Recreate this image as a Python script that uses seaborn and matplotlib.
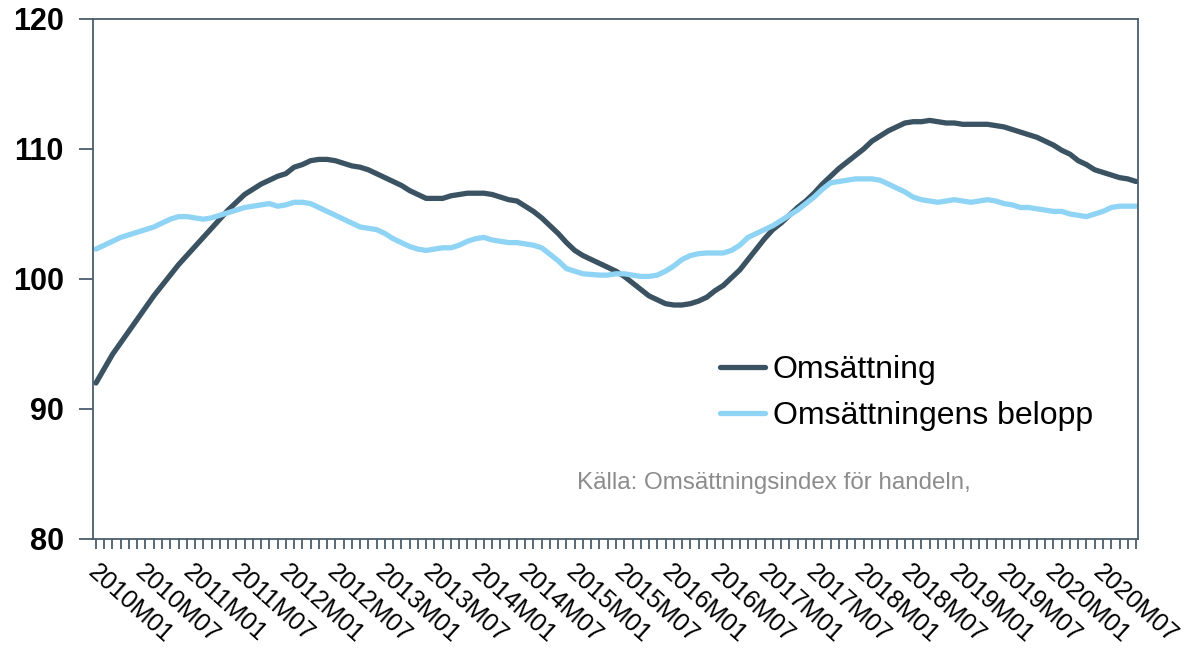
import matplotlib
matplotlib.use("Agg")
import matplotlib.pyplot as plt
import matplotlib.transforms as mtransforms
import seaborn as sns
import numpy as np
import pandas as pd

# --- DATA ---
months = [f"{y}M{m:02d}" for y in range(2010, 2021) for m in range(1, 13)][:127]

omsattning = [
    92.0, 93.1, 94.2, 95.1, 96.0, 96.9, 97.8, 98.7, 99.5, 100.3,
    101.1, 101.8, 102.5, 103.2, 103.9, 104.6, 105.3, 105.9, 106.5, 106.9,
    107.3, 107.6, 107.9, 108.1, 108.6, 108.8, 109.1, 109.2, 109.2, 109.1,
    108.9, 108.7, 108.6, 108.4, 108.1, 107.8, 107.5, 107.2, 106.8, 106.5,
    106.2, 106.2, 106.2, 106.4, 106.5, 106.6, 106.6, 106.6, 106.5, 106.3,
    106.1, 106.0, 105.6, 105.2, 104.7, 104.1, 103.5, 102.8, 102.2, 101.8,
    101.5, 101.2, 100.9, 100.6, 100.2, 99.7, 99.2, 98.7, 98.4, 98.1,
    98.0, 98.0, 98.1, 98.3, 98.6, 99.1, 99.5, 100.1, 100.7, 101.5,
    102.3, 103.1, 103.8, 104.3, 104.9, 105.5, 106.0, 106.6, 107.3, 107.9,
    108.5, 109.0, 109.5, 110.0, 110.6, 111.0, 111.4, 111.7, 112.0, 112.1,
    112.1, 112.2, 112.1, 112.0, 112.0, 111.9, 111.9, 111.9, 111.9, 111.8,
    111.7, 111.5, 111.3, 111.1, 110.9, 110.6, 110.3, 109.9, 109.6, 109.1,
    108.8, 108.4, 108.2, 108.0, 107.8, 107.7, 107.5,
]

belopp = [
    102.3, 102.6, 102.9, 103.2, 103.4, 103.6, 103.8, 104.0, 104.3, 104.6,
    104.8, 104.8, 104.7, 104.6, 104.7, 104.9, 105.1, 105.3, 105.5, 105.6,
    105.7, 105.8, 105.6, 105.7, 105.9, 105.9, 105.8, 105.5, 105.2, 104.9,
    104.6, 104.3, 104.0, 103.9, 103.8, 103.5, 103.1, 102.8, 102.5, 102.3,
    102.2, 102.3, 102.4, 102.4, 102.6, 102.9, 103.1, 103.2, 103.0, 102.9,
    102.8, 102.8, 102.7, 102.6, 102.4, 101.9, 101.4, 100.8, 100.6, 100.4,
    100.35, 100.3, 100.3, 100.4, 100.4, 100.3, 100.2, 100.2, 100.3, 100.6,
    101.0, 101.5, 101.8, 101.95, 102.0, 102.0, 102.0, 102.2, 102.6, 103.2,
    103.5, 103.8, 104.1, 104.5, 104.9, 105.3, 105.8, 106.3, 106.9, 107.4,
    107.5, 107.6, 107.7, 107.7, 107.7, 107.6, 107.3, 107.0, 106.7, 106.3,
    106.1, 106.0, 105.9, 106.0, 106.1, 106.0, 105.9, 106.0, 106.1, 106.0,
    105.8, 105.7, 105.5, 105.5, 105.4, 105.3, 105.2, 105.2, 105.0, 104.9,
    104.8, 105.0, 105.2, 105.5, 105.6, 105.6, 105.6,
]

series_names = ["Omsättning", "Omsättningens belopp"]
series_colors = ["#3a5261", "#8fd4f4"]
y_ticks = [80, 90, 100, 110, 120]

df = pd.DataFrame({
    "idx": list(range(len(months))) * 2,
    "value": omsattning + belopp,
    "serie": [series_names[0]] * len(omsattning) + [series_names[1]] * len(belopp),
})

sns.set_style("white")
plt.rcParams["font.family"] = ["Liberation Sans", "DejaVu Sans"]
plt.rcParams["text.color"] = "black"

fig = plt.figure(figsize=(11.98, 6.48), dpi=100)
ax = fig.add_axes([93 / 1198, 1 - 539 / 648, 1045 / 1198, 520 / 648])

sns.lineplot(data=df, x="idx", y="value", hue="serie", hue_order=series_names,
             palette=series_colors, linewidth=3.8, ax=ax, legend=True)
for line in ax.get_lines():
    line.set_solid_capstyle("round")

ax.set_xlim(-0.36, len(months) - 1 + 0.24)
ax.set_ylim(80, 120)
ax.set_xlabel("")
ax.set_ylabel("")

# spines
spine_color = "#4a5d6c"
for s in ax.spines.values():
    s.set_color(spine_color)
    s.set_linewidth(1.3)

# y ticks
ax.set_yticks(y_ticks)
ax.set_yticklabels([str(v) for v in y_ticks], fontsize=22, fontweight="bold", color="black")
ax.tick_params(axis="y", direction="out", length=10, width=1.3, color=spine_color,
               pad=11, left=True)

# x ticks: a tick every month, label every 6 months
ax.set_xticks(range(0, len(months), 6))
ax.set_xticklabels(months[::6], fontsize=18, rotation=-42, ha="left", va="top",
                   rotation_mode="anchor", color="black")
ax.set_xticks(range(len(months)), minor=True)
ax.tick_params(axis="x", which="both", direction="out", length=7, width=1.3,
               color=spine_color, bottom=True, pad=8)
# labels in the original sit a bit closer together than the ticks
for k, lbl in enumerate(ax.get_xticklabels()):
    off = mtransforms.ScaledTranslation((3 - 1.65 * k) / 100, 0, fig.dpi_scale_trans)
    lbl.set_transform(lbl.get_transform() + off)

# legend
leg = ax.legend(loc="upper left", bbox_to_anchor=(0.6, 0.353), frameon=False, fontsize=23,
                handlelength=1.4, handletextpad=0.25, labelspacing=0.5, borderpad=0,
                borderaxespad=0)
for t in leg.get_texts():
    t.set_color("black")

# source note
ax.text(0.463, 0.108, "Källa: Omsättningsindex för handeln,", transform=ax.transAxes,
        fontsize=17.4, color="#8c8c8c", ha="left", va="center")

fig.savefig("out.png", dpi=100)
